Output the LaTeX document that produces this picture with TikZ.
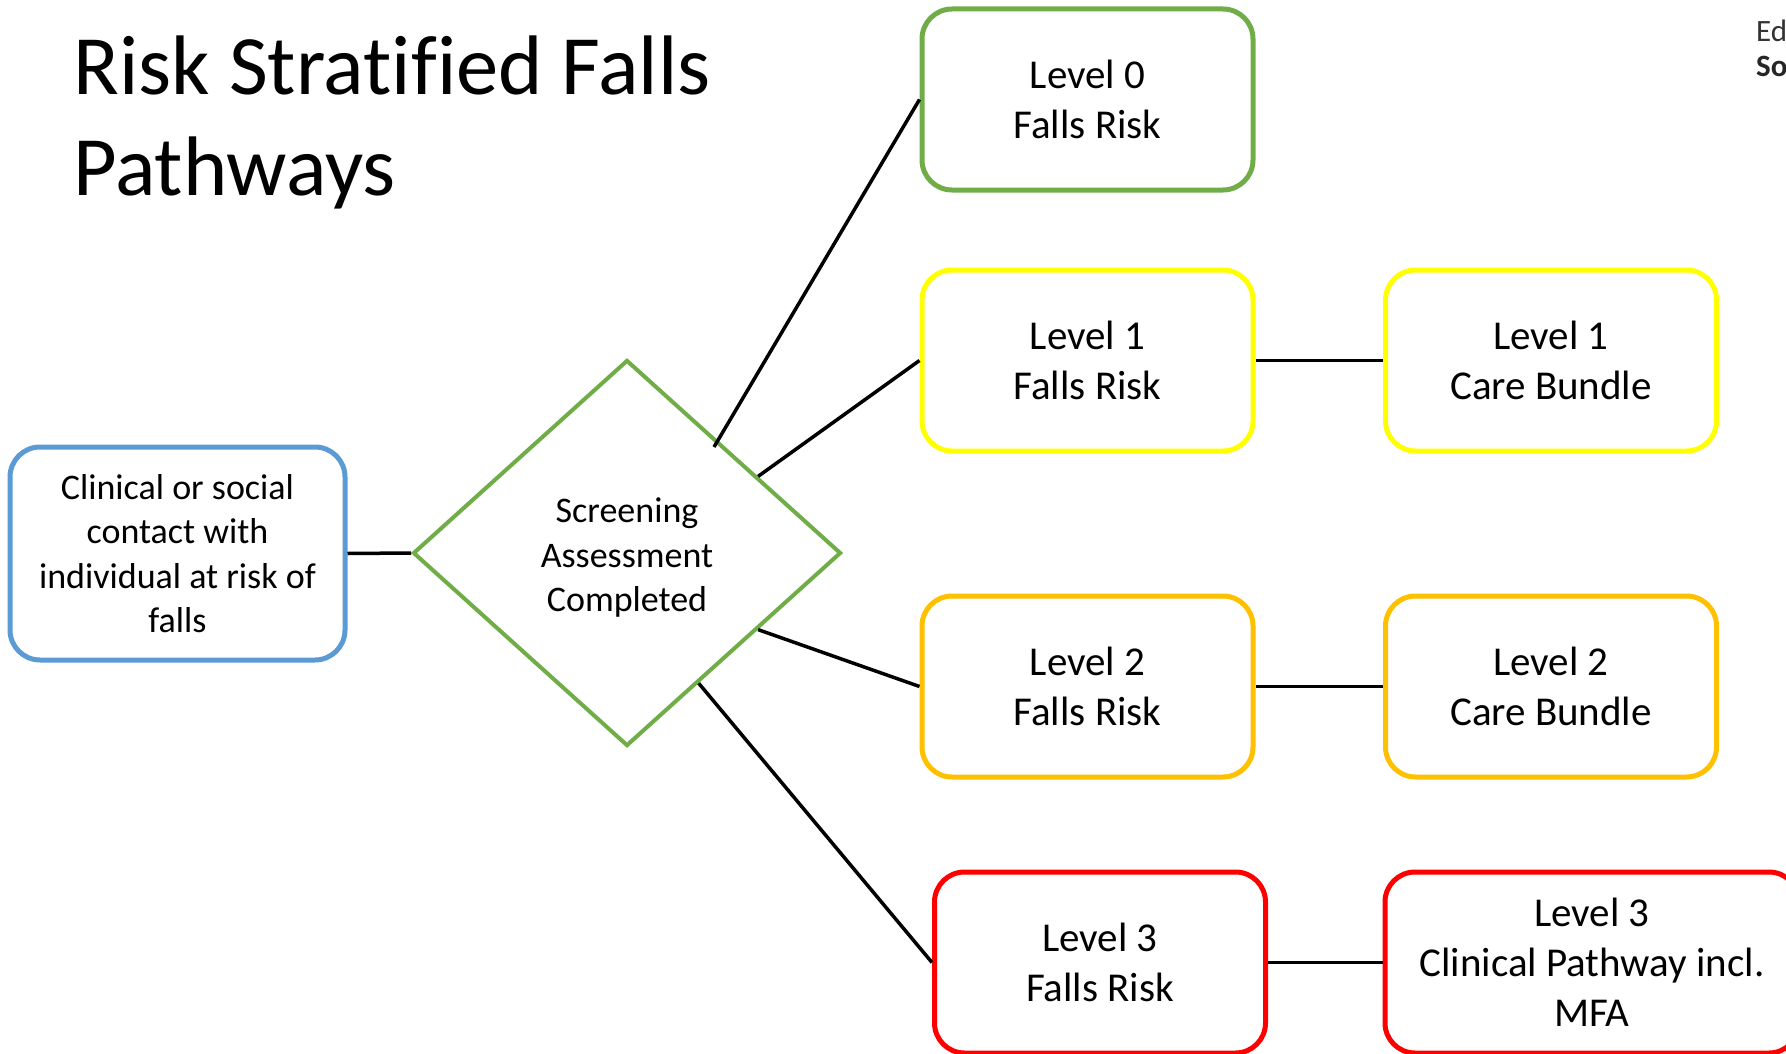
\documentclass[tikz,border=0pt]{standalone}
\usepackage{fontspec}
\setmainfont[Ligatures=NoCommon]{Carlito}
\usetikzlibrary{shapes.geometric,calc}
\definecolor{cgreen}{HTML}{70AD47}
\definecolor{cyellow}{HTML}{FFFF00}
\definecolor{corange}{HTML}{FFC000}
\definecolor{cred}{HTML}{FF0000}
\definecolor{cblue}{HTML}{5B9BD5}
\begin{document}
\begin{tikzpicture}[x=1pt,y=-1pt,
  levelbox/.style={draw, line width=5pt, rounded corners=30pt, minimum width=331pt, minimum height=181pt, align=center, font=\fontsize{41}{50}\selectfont, inner sep=0pt},
  link/.style={draw=black, line width=3.5pt}]
\useasboundingbox (0,0) rectangle (1786,1054);
\fill[white] (0,0) rectangle (1786,1054);
% title
\node[anchor=base west, inner sep=0pt, font=\fontsize{84.5}{101}\selectfont] (t1) at (73,95) {Risk Stratified Falls};
\node[anchor=base west, inner sep=0pt, font=\fontsize{84.5}{101}\selectfont] (t2) at (73,196) {Pathways};
% logo fragment
\node[anchor=base west, inner sep=0pt, font=\fontsize{31}{36}\selectfont, text=black!80] (e1) at (1756,42) {Ed};
\node[anchor=base west, inner sep=0pt, font=\fontsize{31}{36}\selectfont\bfseries, text=black!85] (e2) at (1756,77) {So};
% nodes
\node[draw=cblue, line width=5pt, rounded corners=30pt, minimum width=335pt, minimum height=213pt, align=center, inner sep=0pt, font=\fontsize{36}{44.5}\selectfont] (start) at (177.5,553.5) {Clinical or social\\contact with\\individual at risk of\\falls};
\node[draw=cgreen, line width=4pt, shape=diamond, minimum width=428pt, minimum height=386pt, inner sep=0pt, align=center, font=\fontsize{36}{44.5}\selectfont] (d) at (627,553) {};
\node[align=center, inner sep=0pt, font=\fontsize{36}{44.5}\selectfont] (dt) at (627,558) {Screening\\Assessment\\Completed};
\node[levelbox, draw=cgreen] (l0) at (1087.5,99.5) {Level 0\\Falls Risk};
\node[levelbox, draw=cyellow] (l1) at (1087.5,360.5) {Level 1\\Falls Risk};
\node[levelbox, draw=cyellow] (c1) at (1551,360.5) {Level 1\\Care Bundle};
\node[levelbox, draw=corange] (l2) at (1087.5,686.5) {Level 2\\Falls Risk};
\node[levelbox, draw=corange] (c2) at (1551,686.5) {Level 2\\Care Bundle};
\node[levelbox, draw=cred] (l3) at (1100,962.5) {Level 3\\Falls Risk};
\node[levelbox, draw=cred, minimum width=414pt] (c3) at (1592,962.5) {Level 3\\Clinical Pathway incl.\\MFA};
% connectors
\coordinate (p0) at (714,447);
\coordinate (p1) at ($(d.north)!0.607!(d.east)$);
\coordinate (p2) at ($(d.east)!0.393!(d.south)$);
\coordinate (p3) at ($(d.east)!0.668!(d.south)$);
\draw[link] (start.east) -- (d.west);
\draw[link] (p0) -- (l0.west);
\draw[link] (p1) -- (l1.west);
\draw[link] (p2) -- (l2.west);
\draw[link] (p3) -- (l3.west);
\draw[link] (l1.east) -- (c1.west);
\draw[link] (l2.east) -- (c2.west);
\draw[link] (l3.east) -- (c3.west);
\end{tikzpicture}
\end{document}
